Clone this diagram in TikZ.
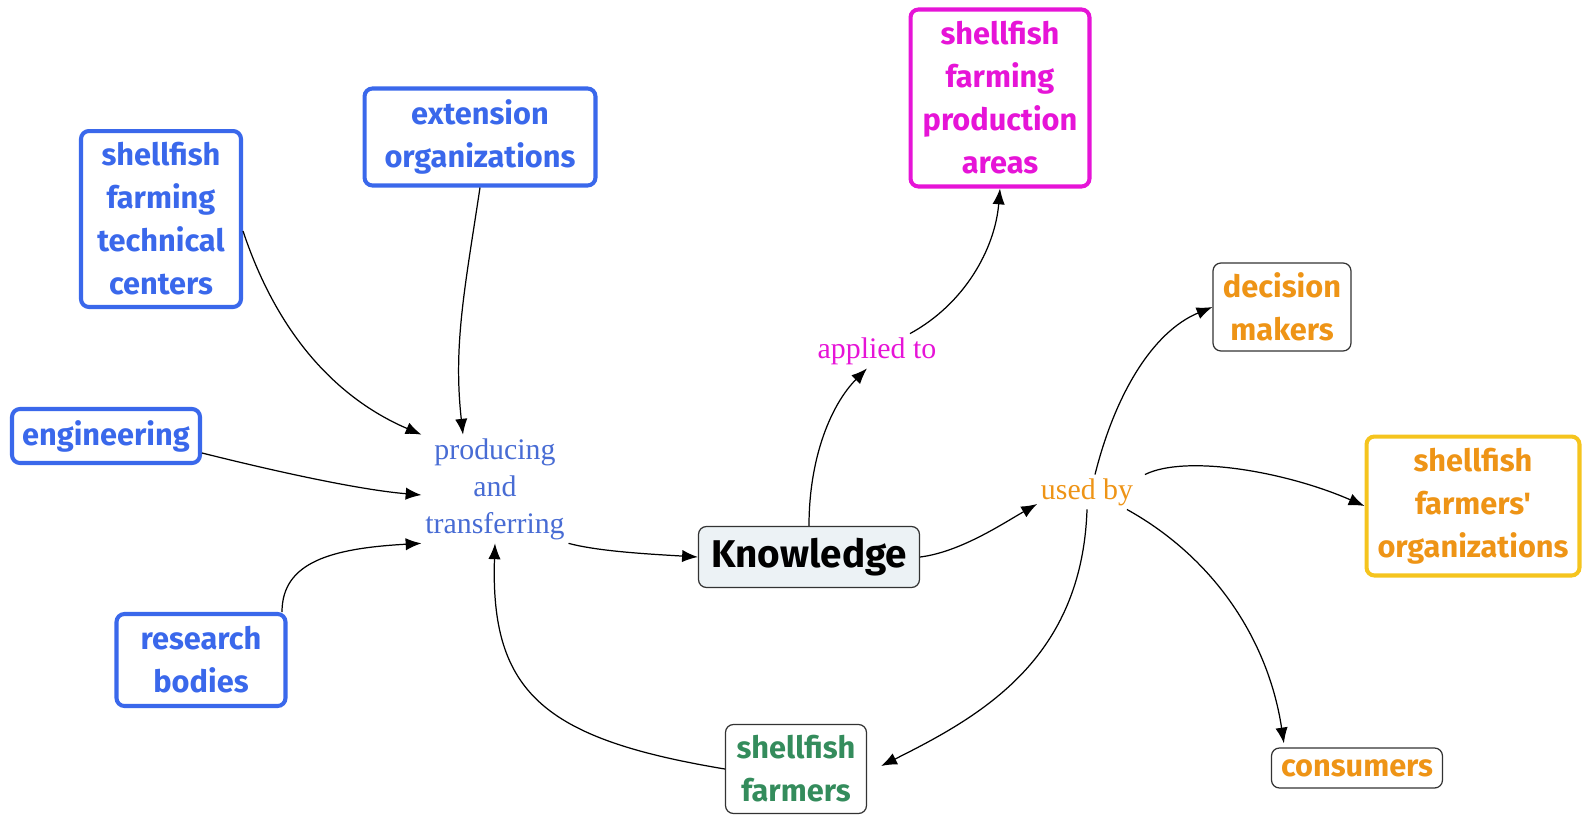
\documentclass[tikz,border=0pt]{standalone}
\usepackage{fontspec}
\setmainfont{Liberation Serif}
\newfontfamily\comicfont{Fira Sans}
\usetikzlibrary{arrows.meta,calc}
\definecolor{boxblue}{RGB}{58,104,235}
\definecolor{labelblue}{RGB}{72,108,212}
\definecolor{magent}{RGB}{230,20,215}
\definecolor{orng}{RGB}{238,148,22}
\definecolor{yell}{RGB}{245,196,30}
\definecolor{grn}{RGB}{52,140,92}
\definecolor{knowfill}{RGB}{236,242,245}

\begin{document}
\begin{tikzpicture}[x=0.02cm,y=-0.02cm,
  box/.style={draw,rounded corners=4.5pt,align=center,inner sep=0pt,
    font=\comicfont\bfseries\fontsize{17.5}{24.5}\selectfont},
  thickbox/.style={box,line width=2.3pt},
  thinbox/.style={box,line width=0.7pt,draw=black!80},
  lbl/.style={align=center,inner sep=2pt,font=\fontsize{17}{21}\selectfont},
  link/.style={-{Latex[length=9pt,width=7pt]},line width=0.7pt}]
\useasboundingbox (0,0) rectangle (1585,815);

\node[thickbox,draw=boxblue,text=boxblue,minimum width=3.2cm,minimum height=3.52cm] (tech) at (161,219) {shellfish\\farming\\technical\\centers};
\node[thickbox,draw=boxblue,text=boxblue,minimum width=4.62cm,minimum height=1.94cm] (ext) at (480,137) {extension\\organizations};
\node[thickbox,draw=boxblue,text=boxblue,minimum width=3.76cm,minimum height=1.08cm] (eng) at (106,436) {engineering};
\node[thickbox,draw=boxblue,text=boxblue,minimum width=3.38cm,minimum height=1.84cm] (res) at (201,660) {research\\bodies};
\node[thickbox,draw=magent,text=magent,minimum width=3.58cm,minimum height=3.54cm] (areas) at (1000,98) {shellfish\\farming\\production\\areas};
\node[thickbox,draw=yell,text=orng,minimum width=4.26cm,minimum height=2.78cm] (forg) at (1473,506) {shellfish\\farmers'\\organizations};

\node[thinbox,fill=knowfill,minimum width=4.42cm,minimum height=1.22cm,font=\comicfont\bfseries\fontsize{22}{26}\selectfont] (know) at (809,557) {Knowledge};
\node[thinbox,text=orng,minimum width=2.76cm,minimum height=1.76cm] (dec) at (1282,307) {decision\\makers};
\node[thinbox,text=orng,minimum width=3.42cm,minimum height=0.8cm] (cons) at (1357,768) {consumers};
\node[thinbox,text=grn,minimum width=2.82cm,minimum height=1.78cm] (sfarm) at (796,769) {shellfish\\farmers};

\node[lbl,text=labelblue] (prod) at (495,489) {producing\\and\\transferring};
\node[lbl,text=magent] (app) at (877,351) {applied to};
\node[lbl,text=orng] (used) at (1087,492) {used by};

\draw[link] ($(tech.east)+(0,12)$) .. controls +(40,120) and +(-70,-30) .. (prod.north west);
\draw[link] (ext.south) .. controls +(-15,100) and +(-10,-90) .. ($(prod.north)+(-32,0)$);
\draw[link] ($(eng.east)+(0,17)$) .. controls +(80,20) and +(-60,-5) .. ($(prod.west)+(0,6)$);
\draw[link] ($(res.north)+(81,0)$) .. controls +(0,-50) and +(-90,5) .. (prod.south west);
\draw[link] (prod.south east) .. controls +(30,8) and +(-50,-3) .. (know.west);
\draw[link] (sfarm.west) .. controls +(-180,-30) and +(-5,150) .. (prod.south);

\draw[link] (know.north) .. controls +(0,-70) and +(-35,35) .. ($(app.south)+(-10,0)$);
\draw[link] ($(app.north)+(33,0)$) .. controls +(55,-30) and +(-5,60) .. (areas.south);

\draw[link] (know.east) .. controls +(40,-5) and +(-35,20) .. ($(used.west)+(0,12)$);
\draw[link] ($(used.north)+(8,0)$) .. controls +(20,-80) and +(-60,25) .. (dec.west);
\draw[link] ($(used.north east)+(8,0)$) .. controls +(40,-20) and +(-80,-35) .. (forg.west);
\draw[link] ($(used.south east)+(-10,0)$) .. controls +(90,50) and +(-15,-100) .. ($(cons.north west)+(13,-4)$);
\draw[link] (used.south) .. controls +(-5,150) and +(100,-50) .. ($(sfarm.east)+(14,-3)$);
\end{tikzpicture}
\end{document}
